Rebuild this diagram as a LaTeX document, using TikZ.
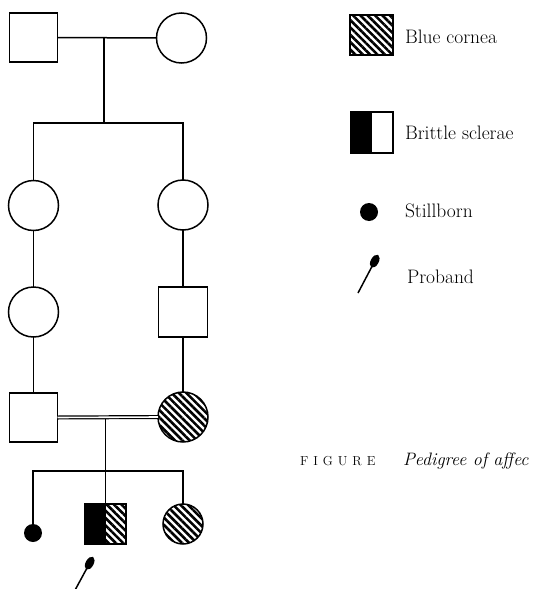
\documentclass[tikz,border=0pt]{standalone}
\usetikzlibrary{patterns.meta,arrows.meta}
\begin{document}
\begin{tikzpicture}[x=1pt,y=-1pt,
  every node/.style={inner sep=0pt,outer sep=0pt},
  ln/.style={line width=1.5pt},
  sq/.style={draw,line width=1.5pt,rectangle,minimum width=48pt,minimum height=49pt},
  ci/.style={draw,line width=1.5pt,circle,minimum size=50pt},
  hatch/.style={pattern={Lines[angle=-45,distance=5.2pt,line width=2.6pt]}},
  halfblack/.style={path picture={\fill (path picture bounding box.south west) rectangle (path picture bounding box.north);}},
  blackhatch/.style={path picture={\fill (path picture bounding box.south west) rectangle (path picture bounding box.north);
      \fill[hatch] (path picture bounding box.south) rectangle (path picture bounding box.north east);}},
  probarrow/.style={line width=1.5pt,-{Ellipse[length=14pt,width=8pt]}},
  legtext/.style={anchor=west,font=\fontsize{19.5}{23}\selectfont},
]
\useasboundingbox (0,0) rectangle (534,589);
% generation 1
\node[sq] (gp1) at (33.5,37.5) {};
\node[ci] (gp2) at (181.5,38) {};
\coordinate (m1) at (104,38);
\coordinate (s1) at (104,123);
\coordinate (s1l) at (33.5,123);
\coordinate (s1r) at (183,123);
\draw[ln] (gp1.east) -- (gp2.west);
\draw[ln] (m1) -- (s1);
% generation 2
\node[ci] (a1) at (33.5,205.5) {};
\node[ci] (a2) at (183,205) {};
\draw[ln] (a1.north) -- (s1l) -- (s1r) -- (a2.north);
% generation 3
\node[ci] (b1) at (33.5,312) {};
\node[sq,minimum width=49pt,minimum height=50pt] (b2) at (183,312) {};
\draw[ln] (a1.south) -- (b1.north);
\draw[ln] (a2.south) -- (b2.north);
% generation 4
\node[sq] (c1) at (33.5,417.5) {};
\node[ci,hatch] (c2) at (183,417) {};
\draw[ln] (b1.south) -- (c1.north);
\draw[ln] (b2.south) -- (c2.north);
\draw[line width=1.2pt,double,double distance=1.6pt] (c1.east) -- (c2.west);
\coordinate (m2) at (105.5,419);
\coordinate (s2) at (105.5,471);
\coordinate (s2l) at (33,471);
\coordinate (s2r) at (183,471);
\draw[ln] (m2) -- (s2);
% generation 5
\node[circle,fill,minimum size=18pt] (d1) at (33,533) {};
\node[sq,blackhatch,minimum width=41pt,minimum height=40pt] (d2) at (105.5,524) {};
\node[ci,hatch,minimum size=40pt] (d3) at (183,524) {};
\draw[ln] (d1.north) -- (s2l) -- (s2r) -- (d3.north);
\draw[ln] (s2) -- (d2.north);
\coordinate (pa) at (74,592);
\coordinate (pb) at (93,557);
\draw[probarrow] (pa) -- (pb);
% legend
\node[sq,hatch,minimum width=43pt,minimum height=40pt] (L1) at (371.5,35) {};
\node[legtext] (T1) at (405,37) {Blue cornea};
\node[sq,halfblack,minimum width=42pt,minimum height=41pt] (L2) at (372,132.5) {};
\node[legtext] (T2) at (405,133) {Brittle sclerae};
\node[circle,fill,minimum size=18pt] (L3) at (369,212) {};
\node[legtext] (T3) at (405,211) {Stillborn};
\coordinate (la) at (358,293);
\coordinate (lb) at (378,255);
\draw[probarrow] (la) -- (lb);
\node[legtext] (T4) at (407,277) {Proband};
% caption
\node[anchor=base west,font=\fontsize{13}{15}\selectfont] (F) at (300,465) {F\kern5pt I\kern5pt G\kern5pt U\kern5pt R\kern5pt E};
\node[anchor=base west,font=\fontsize{18}{21}\selectfont\itshape] (cap) at (403,465) {Pedigree of affec};
\end{tikzpicture}
\end{document}
